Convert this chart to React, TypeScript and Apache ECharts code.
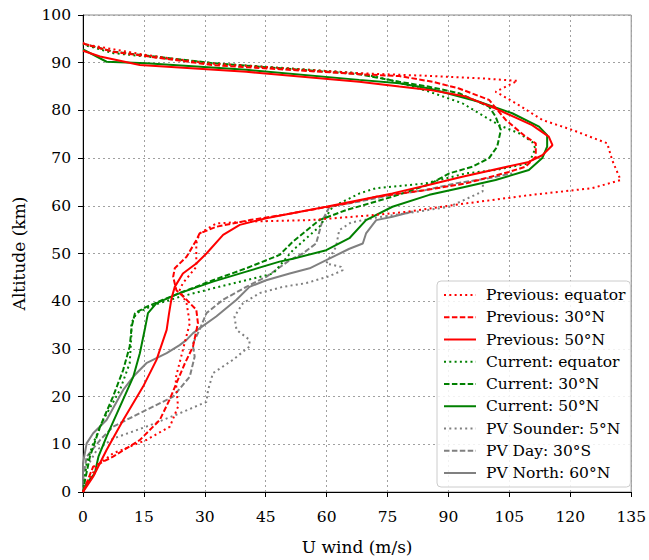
import React, { useEffect, useRef } from "react";
import * as echarts from "echarts";

const seriesNames = [
  "Previous: equator",
  "Previous: 30°N",
  "Previous: 50°N",
  "Current: equator",
  "Current: 30°N",
  "Current: 50°N",
  "PV Sounder: 5°N",
  "PV Day: 30°S",
  "PV North: 60°N",
];

const xTicks = [0, 15, 30, 45, 60, 75, 90, 105, 120, 135];
const yTicks = [0, 10, 20, 30, 40, 50, 60, 70, 80, 90, 100];

// [U wind (m/s), altitude (km)]
const prevEquator = [
  [0, 0], [3.4, 5.5], [7.4, 8.1], [15.6, 10.9], [21.4, 13.7], [23.4, 17.9], [22.8, 23.8],
  [24.6, 29.8], [26.3, 35.4], [25.5, 39.6], [23.8, 42.3], [24.6, 43.8], [27.9, 47.2],
  [27.9, 52.1], [28.7, 54.2], [32.8, 56.3], [41, 56.7], [55.8, 57], [72.2, 58.1],
  [80.3, 58.8], [94.3, 60.5], [110.6, 62.3], [125.4, 63.7], [132.4, 65.4], [130.3, 69.6],
  [129.1, 73.1], [120.5, 75.9], [113.1, 78], [106.6, 81.5], [101.6, 83.9], [107, 86.2],
  [98.4, 86.7], [86.1, 87.2], [68, 87.8], [30.4, 89.9], [15.6, 91.6], [0.9, 93.8], [0, 94.2],
];
const prev30N = [
  [0, 0], [2.5, 5.3], [7.4, 7.4], [14, 10.9], [18.9, 15.1], [21.4, 19.5], [23, 22.8],
  [25.1, 27], [27.1, 30.5], [28.3, 35.4], [27.9, 38.2], [25.5, 40.3], [23, 42.3],
  [22.2, 45.1], [22.6, 46.9], [25.5, 49.3], [27.9, 52.8], [28.7, 54.2], [32.8, 55.6],
  [41, 57], [49.2, 58.1], [55.8, 59.1], [65, 60.5], [72.2, 61.9], [84.4, 63.3],
  [94.3, 64.7], [104.9, 67.1], [109, 68.2], [111.5, 70.3], [111.5, 73.1], [109, 74.5],
  [104.1, 78], [100, 82.2], [92.6, 84.6], [86.1, 86], [77.9, 87.2], [68, 87.6],
  [32, 89.5], [7.4, 92.3], [0, 94],
];
const prev50N = [
  [0, 0], [2.5, 3.2], [5.8, 8.8], [9.9, 15.1], [14.8, 22.1], [18.1, 27.7], [20.6, 34],
  [21.2, 37.5], [21.8, 40.6], [22.6, 43], [24.6, 45.8], [27.9, 47.9], [30.4, 50],
  [34.5, 53.9], [38.6, 56], [45.1, 57.4], [59.9, 59.8], [76.2, 62.6], [85.3, 64.4],
  [93.4, 66.1], [109.8, 69.2], [113.1, 70.6], [115.6, 72.7], [114.7, 74.5], [110.6, 76.9],
  [101.6, 80.4], [94.3, 82.9], [85.3, 84.3], [77.9, 85], [68, 86], [40.2, 88.1],
  [14, 89.5], [4.2, 91.3], [0, 92.5],
];
const curEquator = [
  [0, 0], [0.9, 6], [2.5, 10.2], [5, 15.1], [9.1, 21.4], [11.5, 27], [11.9, 32.6],
  [11.9, 35.4], [13.2, 37.5], [15.6, 38.5], [18.9, 39.6], [23.8, 40.9], [32, 42.7],
  [40.2, 44.4], [46.8, 45.8], [51.7, 50.7], [58.2, 55.6], [61.5, 59.8], [68.1, 62.6],
  [72.2, 63.7], [84.4, 64.7], [94.3, 66.8], [101.6, 67.5], [109.8, 68.9], [111.4, 72],
  [110.6, 73.4], [107.4, 75.2], [102.5, 76.9], [97.5, 79.4], [93.4, 81.5], [85, 84],
  [75, 86.5], [68, 87.8], [32, 89.9], [15.6, 91.3], [7.4, 92], [1.7, 93.4], [0, 93.8],
];
const cur30N = [
  [0, 0], [0.5, 2.5], [1.7, 7.4], [4.2, 13.7], [7.4, 20], [9.9, 25.6], [11.5, 30.5],
  [12, 34.7], [12.8, 37.5], [15.6, 38.8], [19.7, 40.3], [23.8, 41.7], [32, 44.4],
  [40.2, 46.9], [48.4, 49.7], [51.7, 52.5], [58.2, 57], [64.8, 59.1], [76.2, 61.9],
  [85.3, 64.5], [90.2, 66.8], [95.9, 68.2], [100, 70], [102, 72.4], [102.9, 75.9],
  [101.6, 78.7], [100, 80.8], [92.6, 83.6], [85, 85], [77.9, 86], [68, 87.6],
  [32, 89.9], [7.4, 92.3], [0, 94],
];
const cur50N = [
  [0, 0], [0.9, 1.8], [2.9, 3.9], [3.8, 7.4], [5.8, 11.6], [9.1, 17.9], [12.4, 24.2],
  [14, 29.1], [15.2, 34], [16, 37.5], [18.1, 39.6], [23.8, 41.7], [32, 44.1],
  [40.2, 46.2], [48.4, 48.3], [51.7, 48.9], [59.9, 50.7], [65.6, 53.2], [69.7, 57],
  [76.2, 59.8], [85.3, 62.3], [92.6, 63.7], [101.6, 65.4], [109.8, 67.5], [113.1, 70],
  [114.3, 72.4], [114.3, 74.8], [112.3, 76.6], [105.7, 79.4], [97.5, 81.8], [85.3, 84.6],
  [77.9, 85.7], [68, 86.4], [40.2, 88.5], [15.6, 89.9], [5.8, 90.2], [0, 92.8],
];
const pvSounder5N = [
  [0, 1], [0.5, 4.6], [3.4, 8.8], [7.4, 11.2], [15.6, 13.7], [23.8, 16.5], [30.4, 18.9],
  [30.8, 21.4], [32, 24.9], [36.9, 27.7], [41, 30.5], [41, 31.9], [37.8, 34],
  [37.3, 36.8], [39.4, 39.6], [43.5, 41.7], [49.2, 43], [55, 43.8], [60.5, 45.2],
  [64, 46.5], [63.5, 47.2], [59.9, 47.9], [62.3, 51.4], [63.1, 54.9], [66, 56.5],
  [72, 57.5], [80.3, 58.5], [90.2, 59.8], [98.4, 63], [98.5, 64.5],
];
const pvDay30S = [
  [0, 1], [0.1, 3.2], [0.9, 7.4], [4.2, 10.9], [7.4, 13.7], [15.6, 17.2], [22.2, 20],
  [26.3, 24.2], [27.5, 28.4], [27, 31], [28.7, 34], [30.4, 37.5], [34.5, 40.3],
  [40.2, 43], [45.1, 45.1], [50.9, 48.6], [54.1, 50], [57.4, 52.1], [59, 57],
  [60.7, 59.8], [68.1, 60.9], [76.2, 62.3], [84.4, 63.3], [91.8, 64.7], [100, 65.8],
  [105.7, 66.8],
];
const pvNorth60N = [
  [0, 1], [0, 6], [0.9, 10.2], [2.5, 12.3], [5.8, 15.1], [9.9, 21.4], [12.4, 24.2],
  [15.6, 27], [20.6, 29.1], [23.8, 30.8], [25.5, 31.9], [27.1, 33.3], [28.7, 34.3],
  [32.8, 36.8], [37.8, 40.3], [41, 43], [45.1, 44.4], [50.9, 45.8], [55.8, 46.9],
  [59.9, 48.6], [65.6, 51], [68.9, 52.1], [69.7, 54.2], [72.2, 57], [76.2, 57.7],
  [81.2, 58.8],
];

const seriesData = [
  prevEquator, prev30N, prev50N, curEquator, cur30N, cur50N, pvSounder5N, pvDay30S, pvNorth60N,
];
const seriesColors = ["#ff0000", "#ff0000", "#ff0000", "#008000", "#008000", "#008000", "#808080", "#808080", "#808080"];
const dotted = [2, 3.3];
const dashed = [5.5, 2.4];
const seriesDash: any[] = [dotted, dashed, "solid", dotted, dashed, "solid", dotted, dashed, "solid"];

const FONT = "DejaVu Serif";

export default function App() {
  const ref = useRef<HTMLDivElement>(null);
  useEffect(() => {
    if (!ref.current) return;
    const chart = echarts.init(ref.current, undefined, { renderer: "svg" });
    chart.setOption({
      animation: false,
      backgroundColor: "#ffffff",
      grid: {
        left: 83,
        right: 14,
        top: 15,
        bottom: 68,
        show: true,
        borderColor: "#8a8a8a",
        borderWidth: 1,
        backgroundColor: "transparent",
      },
      xAxis: {
        type: "value",
        min: 0,
        max: 135,
        interval: 15,
        name: "U wind (m/s)",
        nameLocation: "middle",
        nameGap: 46,
        nameTextStyle: { fontFamily: FONT, fontSize: 17, color: "#000" },
        axisLine: { show: true, onZero: false, lineStyle: { color: "#000", width: 1 } },
        axisTick: { show: true, length: 5, lineStyle: { color: "#000" } },
        axisLabel: {
          fontFamily: FONT,
          fontSize: 15.5,
          color: "#000",
          margin: 17,
          formatter: (v: number) => (xTicks.includes(v) ? String(v) : ""),
        },
        splitLine: { show: true, lineStyle: { color: "#a0a0a0", type: [2, 3], width: 1 } },
      },
      yAxis: {
        type: "value",
        min: 0,
        max: 100,
        interval: 10,
        name: "Altitude (km)",
        nameLocation: "middle",
        nameGap: 56,
        nameTextStyle: { fontFamily: FONT, fontSize: 17, color: "#000" },
        axisLine: { show: true, onZero: false, lineStyle: { color: "#000", width: 1 } },
        axisTick: { show: true, length: 5, lineStyle: { color: "#000" } },
        axisLabel: {
          fontFamily: FONT,
          fontSize: 15.5,
          color: "#000",
          margin: 12,
          formatter: (v: number) => (yTicks.includes(v) ? String(v) : ""),
        },
        splitLine: { show: true, lineStyle: { color: "#a0a0a0", type: [2, 3], width: 1 } },
      },
      legend: {
        orient: "vertical",
        left: 437,
        top: 281,
        padding: [6, 5, 6, 6],
        itemWidth: 32,
        itemHeight: 16,
        itemGap: 6.25,
        backgroundColor: "rgba(255,255,255,0.85)",
        borderColor: "#cccccc",
        borderWidth: 1,
        borderRadius: 4,
        itemStyle: { opacity: 0 },
        textStyle: { fontFamily: FONT, fontSize: 15.5, color: "#000", padding: [0, 0, 0, 5], lineHeight: 16 },
        data: seriesNames,
      },
      series: seriesNames.map((name, i) => ({
        name,
        type: "line",
        data: seriesData[i],
        symbol: "none",
        showSymbol: false,
        silent: true,
        z: 10 - Math.floor(i / 3),
        lineStyle: { color: seriesColors[i], width: 2, type: seriesDash[i] },
        itemStyle: { color: seriesColors[i] },
      })),
    });
    return () => chart.dispose();
  }, []);
  return (
    <div
      ref={ref}
      style={{ position: "fixed", left: 0, top: 0, width: 649, height: 560, background: "#fff" }}
    />
  );
}
